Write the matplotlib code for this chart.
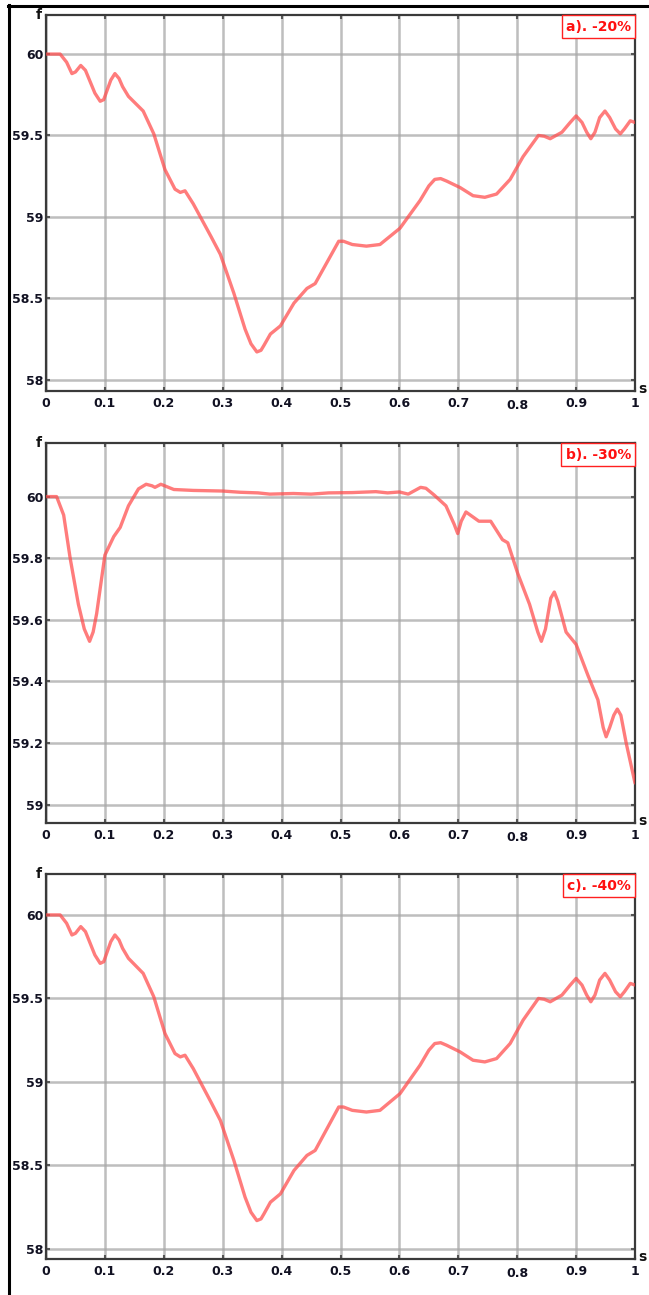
import matplotlib
matplotlib.use("Agg")
import matplotlib.pyplot as plt
from matplotlib.lines import Line2D
from matplotlib.transforms import ScaledTranslation

# ---------------- data ----------------
time_a = [0, 0.024, 0.035, 0.044, 0.05, 0.059, 0.067, 0.075, 0.083, 0.092,
          0.098, 0.105, 0.11, 0.117, 0.124, 0.13, 0.14, 0.165, 0.183, 0.202,
          0.219, 0.228, 0.236, 0.25, 0.262, 0.28, 0.296, 0.319, 0.338, 0.348,
          0.358, 0.365, 0.37, 0.381, 0.398, 0.421, 0.443, 0.457, 0.477, 0.497,
          0.505, 0.52, 0.544, 0.567, 0.601, 0.635, 0.65, 0.66, 0.67, 0.68,
          0.703, 0.725, 0.745, 0.765, 0.788, 0.81, 0.836, 0.846, 0.856, 0.876,
          0.89, 0.90, 0.91, 0.918, 0.925, 0.932, 0.94, 0.949, 0.957, 0.967,
          0.975, 0.982, 0.992, 1.0]
freq_a = [60.0, 60.0, 59.95, 59.88, 59.89, 59.93, 59.90, 59.83, 59.76, 59.71,
          59.72, 59.79, 59.84, 59.88, 59.85, 59.80, 59.74, 59.65, 59.51, 59.29,
          59.17, 59.15, 59.16, 59.08, 59.0, 58.88, 58.77, 58.53, 58.31, 58.22,
          58.17, 58.18, 58.21, 58.28, 58.33, 58.47, 58.56, 58.59, 58.72, 58.85,
          58.85, 58.83, 58.82, 58.83, 58.93, 59.10, 59.19, 59.23, 59.235, 59.22,
          59.18, 59.13, 59.12, 59.14, 59.23, 59.37, 59.50, 59.495, 59.48, 59.52,
          59.58, 59.62, 59.58, 59.52, 59.48, 59.52, 59.61, 59.65, 59.61, 59.54,
          59.51, 59.54, 59.59, 59.58]

time_b = [0, 0.018, 0.03, 0.041, 0.055, 0.065, 0.074, 0.08, 0.086, 0.10,
          0.115, 0.126, 0.14, 0.157, 0.17, 0.18, 0.185, 0.195, 0.217, 0.25,
          0.3, 0.33, 0.36, 0.38, 0.42, 0.45, 0.48, 0.52, 0.56, 0.58,
          0.6, 0.615, 0.636, 0.645, 0.659, 0.679, 0.693, 0.699, 0.705, 0.713,
          0.735, 0.755, 0.775, 0.784, 0.801, 0.821, 0.835, 0.841, 0.848, 0.857,
          0.863, 0.869, 0.883, 0.90, 0.92, 0.937, 0.946, 0.951, 0.957, 0.964,
          0.97, 0.976, 0.985, 1.0]
freq_b = [60.0, 60.0, 59.94, 59.80, 59.65, 59.57, 59.53, 59.56, 59.62, 59.81,
          59.87, 59.90, 59.97, 60.025, 60.04, 60.035, 60.03, 60.04, 60.023, 60.02,
          60.018, 60.014, 60.012, 60.008, 60.010, 60.008, 60.012, 60.013, 60.016, 60.012,
          60.015, 60.008, 60.03, 60.027, 60.005, 59.97, 59.91, 59.88, 59.92, 59.95,
          59.92, 59.92, 59.86, 59.85, 59.75, 59.65, 59.56, 59.53, 59.57, 59.67,
          59.69, 59.66, 59.56, 59.52, 59.42, 59.34, 59.25, 59.22, 59.25, 59.29,
          59.31, 59.29, 59.20, 59.07]

time_c = time_a
freq_c = freq_a

x_ticks = [0, 0.1, 0.2, 0.3, 0.4, 0.5, 0.6, 0.7, 0.8, 0.9, 1.0]
x_tick_labels = ["0", "0.1", "0.2", "0.3", "0.4", "0.5", "0.6", "0.7", "0.8", "0.9", "1"]
y_ticks_ac = [58, 58.5, 59, 59.5, 60]
y_tick_labels_ac = ["58", "58.5", "59", "59.5", "60"]
y_ticks_b = [59, 59.2, 59.4, 59.6, 59.8, 60]
y_tick_labels_b = ["59", "59.2", "59.4", "59.6", "59.8", "60"]
panel_titles = ["a). -20%", "b). -30%", "c). -40%"]

# ---------------- figure ----------------
W, H = 649, 1295
fig = plt.figure(figsize=(W / 100, H / 100), dpi=100)
plt.rcParams['font.family'] = ['DejaVu Sans']


def px_axes(left, top, right, bottom):
    return [left / W, 1 - bottom / H, (right - left) / W, (bottom - top) / H]


panels = [
    dict(rect=px_axes(46, 15, 635, 391), t=time_a, f=freq_a, ylim=(57.93, 60.24),
         yt=y_ticks_ac, ytl=y_tick_labels_ac, title=panel_titles[0]),
    dict(rect=px_axes(46, 443, 635, 823), t=time_b, f=freq_b, ylim=(58.94, 60.174),
         yt=y_ticks_b, ytl=y_tick_labels_b, title=panel_titles[1]),
    dict(rect=px_axes(46, 874, 635, 1259), t=time_c, f=freq_c, ylim=(57.94, 60.245),
         yt=y_ticks_ac, ytl=y_tick_labels_ac, title=panel_titles[2]),
]

for p in panels:
    ax = fig.add_axes(p["rect"])
    ax.set_xlim(0, 1.0)
    ax.set_ylim(*p["ylim"])
    ax.set_xticks(x_ticks)
    ax.set_xticklabels(x_tick_labels, fontsize=9, fontweight='bold', color='#111122')
    ax.set_yticks(p["yt"])
    ax.set_yticklabels(p["ytl"], fontsize=9, fontweight='bold', color='#111122')
    ax.grid(True, color='#a8a8a8', lw=1.8, alpha=0.75)
    ax.set_axisbelow(True)
    ax.tick_params(axis='both', which='both', direction='in', length=3, width=1.5,
                   color='#555555', top=True, right=True)
    ax.tick_params(axis='x', pad=4)
    ax.tick_params(axis='y', pad=2)
    for s in ax.spines.values():
        s.set_color('#3a3a3a')
        s.set_linewidth(1.6)
    # the "0.8" label sits slightly lower in the original
    lbl = ax.get_xticklabels()[8]
    lbl.set_transform(lbl.get_transform() + ScaledTranslation(0, -2.5 / 100, fig.dpi_scale_trans))

    ax.plot(p["t"], p["f"], color='#ff4a4a', lw=2.4, alpha=0.72,
            solid_joinstyle='round', solid_capstyle='round', zorder=3)

    ax.text(0.993, 0.988, p["title"], transform=ax.transAxes, ha='right', va='top',
            fontsize=10, fontweight='bold', color='#ff1010',
            bbox=dict(boxstyle='square,pad=0.3', fc='white', ec='#ff2020', lw=1.0),
            zorder=5)
    ax.text(-0.012, 1.0, "f", transform=ax.transAxes, ha='center', va='center',
            fontsize=10, fontweight='bold', color='#111111')
    ax.text(1.006, -0.012, "s", transform=ax.transAxes, ha='left', va='bottom',
            fontsize=10, fontweight='bold', color='#111111')

# outer frame (left and top edges)
fig.add_artist(Line2D([8.5 / W, 8.5 / W], [0, 1 - 5 / H], transform=fig.transFigure,
                      color='black', lw=2.2))
fig.add_artist(Line2D([7.5 / W, 1], [1 - 5.5 / H, 1 - 5.5 / H], transform=fig.transFigure,
                      color='black', lw=2.2))

fig.savefig("out.png", dpi=100)
